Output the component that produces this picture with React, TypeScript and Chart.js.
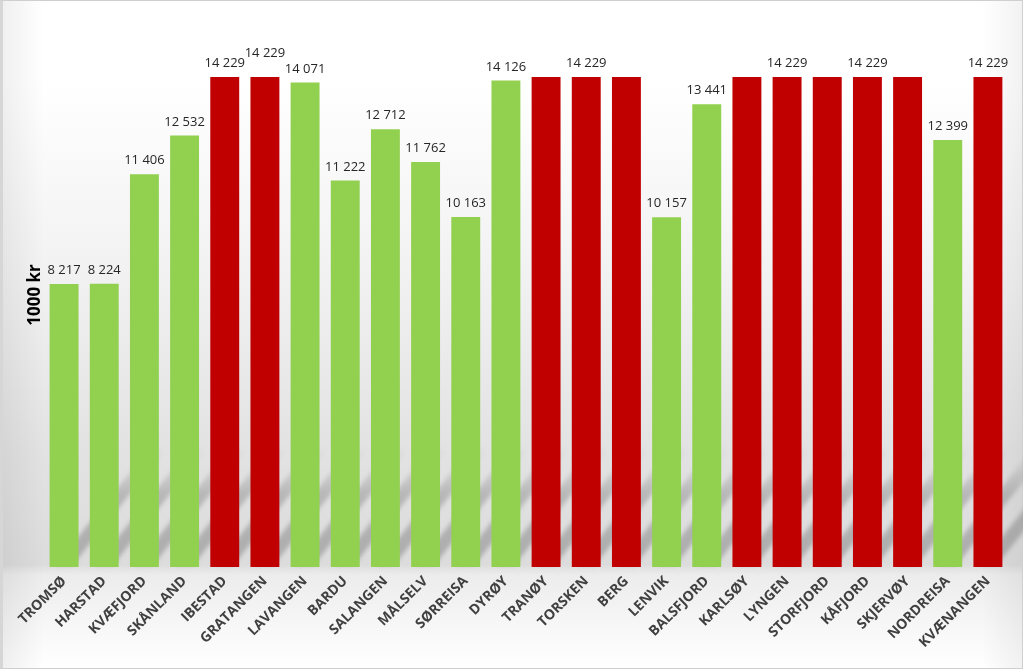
import React, { useEffect, useRef } from "react";
import { Chart, registerables } from "chart.js";

Chart.register(...registerables);

const categories = [
  "TROMSØ", "HARSTAD", "KVÆFJORD", "SKÅNLAND", "IBESTAD", "GRATANGEN", "LAVANGEN", "BARDU",
  "SALANGEN", "MÅLSELV", "SØRREISA", "DYRØY", "TRANØY", "TORSKEN", "BERG", "LENVIK",
  "BALSFJORD", "KARLSØY", "LYNGEN", "STORFJORD", "KÅFJORD", "SKJERVØY", "NORDREISA", "KVÆNANGEN",
];
const values = [
  8217, 8224, 11406, 12532, 14229, 14229, 14071, 11222,
  12712, 11762, 10163, 14126, 14229, 14229, 14229, 10157,
  13441, 14229, 14229, 14229, 14229, 14229, 12399, 14229,
];
// "g" = green bar, "r" = red bar
const colorGroup = [
  "g", "g", "g", "g", "r", "r", "g", "g",
  "g", "g", "g", "g", "r", "r", "r", "g",
  "g", "r", "r", "r", "r", "r", "g", "r",
];
const showLabel = [
  true, true, true, true, true, true, true, true,
  true, true, true, true, false, true, false, true,
  true, false, true, false, true, false, true, true,
];
const yAxisTitle = "1000 kr";
const yMax = 16000;

const GREEN = "#92D050";
const RED = "#C00000";
const FONT = "'Open Sans', 'Liberation Sans', sans-serif";

function fmt(v: number): string {
  return String(v).replace(/\B(?=(\d{3})+(?!\d))/g, " ");
}

const shadowPlugin = {
  id: "floorShadow",
  beforeDatasetsDraw(chart: any) {
    const ctx = chart.ctx;
    const meta = chart.getDatasetMeta(0);
    ctx.save();
    ctx.filter = "blur(2px)";
    meta.data.forEach((bar: any) => {
      const w = bar.width;
      const x0 = bar.x - w * 0.3;
      const x1 = bar.x + w * 0.3;
      const b = bar.base;
      const H = 120;
      const dx = 95;
      const g = ctx.createLinearGradient(0, b, 0, b - H);
      g.addColorStop(0, "rgba(80,80,80,0.35)");
      g.addColorStop(0.6, "rgba(90,90,90,0.3)");
      g.addColorStop(1, "rgba(120,120,120,0)");
      ctx.fillStyle = g;
      ctx.beginPath();
      ctx.moveTo(x0, b - 2);
      ctx.lineTo(x1, b - 2);
      ctx.lineTo(x1 + dx, b - H);
      ctx.lineTo(x0 + dx, b - H);
      ctx.closePath();
      ctx.fill();
    });
    ctx.restore();
  },
};

const labelPlugin = {
  id: "valueLabels",
  afterDatasetsDraw(chart: any) {
    const ctx = chart.ctx;
    const meta = chart.getDatasetMeta(0);
    ctx.save();
    ctx.font = "13px " + FONT;
    ctx.fillStyle = "#262626";
    ctx.textAlign = "center";
    ctx.textBaseline = "bottom";
    meta.data.forEach((bar: any, i: number) => {
      if (!showLabel[i]) return;
      let y = bar.y - 7;
      // GRATANGEN label sits higher in the original to avoid overlap
      if (i === 5) y -= 10;
      ctx.fillText(fmt(values[i]), bar.x, y);
    });
    // y-axis title
    ctx.translate(35, 295);
    ctx.rotate(-Math.PI / 2);
    ctx.font = "bold 17px " + FONT;
    ctx.fillStyle = "#000";
    ctx.textBaseline = "middle";
    ctx.fillText(yAxisTitle, 0, 0);
    ctx.restore();
  },
};

export default function App() {
  const ref = useRef<HTMLCanvasElement | null>(null);
  useEffect(() => {
    document.body.style.margin = "0";
    const canvas = ref.current!;
    const chart = new Chart(canvas, {
      type: "bar",
      data: {
        labels: categories,
        datasets: [
          {
            data: values,
            backgroundColor: colorGroup.map((c) => (c === "r" ? RED : GREEN)),
            barPercentage: 0.72,
            categoryPercentage: 1,
          },
        ],
      },
      options: {
        animation: false,
        responsive: false,
        maintainAspectRatio: false,
        layout: { padding: { left: 44, right: 15, top: 16, bottom: 0 } },
        plugins: { legend: { display: false }, tooltip: { enabled: false } },
        scales: {
          x: {
            grid: { display: false, drawTicks: false },
            border: { display: false },
            ticks: {
              autoSkip: false,
              maxRotation: 45,
              minRotation: 45,
              padding: 6,
              color: "#404040",
              font: { family: FONT, size: 14, weight: "bold" },
            },
            afterFit(scale: any) {
              scale.height = 102;
            },
          },
          y: {
            display: false,
            min: 0,
            max: yMax,
          },
        },
      },
      plugins: [shadowPlugin, labelPlugin],
    } as any);
    return () => chart.destroy();
  }, []);

  return (
    <div
      style={{
        position: "absolute",
        left: 0,
        top: 0,
        width: 1023,
        height: 669,
        boxSizing: "border-box",
        border: "1px solid #cfcfcf",
        borderLeft: "3px solid #d6d6d6",
        background:
          "linear-gradient(to right, rgba(0,0,0,0.06) 0%, rgba(0,0,0,0) 4%, rgba(0,0,0,0) 96%, rgba(0,0,0,0.05) 100%), linear-gradient(to bottom, #ffffff 0%, #ffffff 12%, #f2f2f2 40%, #e2e2e2 68%, #dcdcdc 84.5%, #ececec 86%, #f6f6f6 93%, #ffffff 100%)",
      }}
    >
      <canvas
        ref={ref}
        width={1023}
        height={669}
        style={{ position: "absolute", left: -3, top: -1, width: 1023, height: 669 }}
      />
    </div>
  );
}
